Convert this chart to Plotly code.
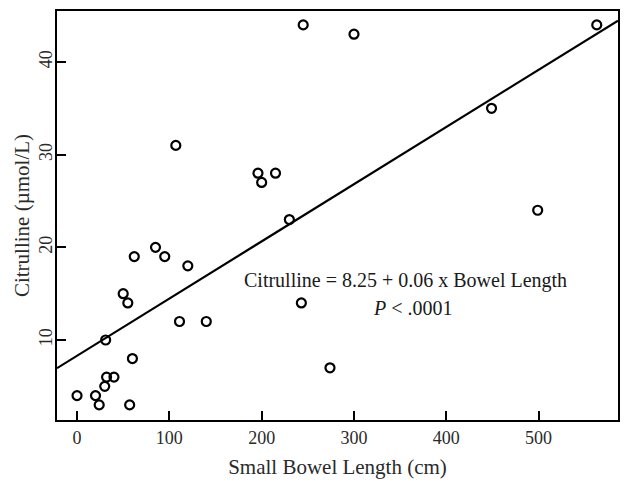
import plotly.graph_objects as go

bowel_length = [0, 20, 24, 30, 32, 40, 31, 60, 57, 50, 55, 62, 85, 95, 107, 111, 120, 140,
                196, 200, 215, 230, 243, 245, 274, 300, 449, 499, 563]
citrulline = [4, 4, 3, 5, 6, 6, 10, 8, 3, 15, 14, 19, 20, 19, 31, 12, 18, 12,
              28, 27, 28, 23, 14, 44, 7, 43, 35, 24, 44]

intercept = 8.3
slope = 0.0617
x_range = [-21.7, 586]
y_range = [1.37, 45.5]

x_tick_vals = [0, 100, 200, 300, 400, 500]
y_tick_vals = [10, 20, 30, 40]

line_x = x_range
line_y = [intercept + slope * v for v in line_x]

FONT = "Liberation Serif, Times New Roman, serif"

fig = go.Figure()
fig.add_trace(go.Scatter(x=line_x, y=line_y, mode="lines",
                         line=dict(color="black", width=2.2), hoverinfo="skip"))
fig.add_trace(go.Scatter(x=bowel_length, y=citrulline, mode="markers",
                         marker=dict(symbol="circle-open", size=9, color="black",
                                     line=dict(width=2.2, color="black"))))

fig.add_annotation(x=0.622, y=0.342, xref="paper", yref="paper",
                   text="Citrulline = 8.25 + 0.06 x Bowel Length", showarrow=False,
                   font=dict(family=FONT, size=20, color="#1a1a1a"), xanchor="center", yanchor="middle")
fig.add_annotation(x=0.634, y=0.274, xref="paper", yref="paper",
                   text="<i>P</i> < .0001", showarrow=False,
                   font=dict(family=FONT, size=20, color="#1a1a1a"), xanchor="center", yanchor="middle")

fig.update_layout(
    width=629, height=489,
    margin=dict(l=57, r=11, t=11, b=69, autoexpand=False),
    paper_bgcolor="white", plot_bgcolor="white",
    showlegend=False,
    font=dict(family=FONT, size=18, color="#2a2a2a"),
    xaxis=dict(range=x_range, tickvals=x_tick_vals, ticks="inside", ticklen=9, tickwidth=2,
               tickcolor="black", showline=True, linecolor="black", linewidth=2, mirror=True,
               showgrid=False, zeroline=False, automargin=False,
               title=dict(text="Small Bowel Length (cm)", font=dict(size=21, family=FONT), standoff=13)),
    yaxis=dict(range=y_range, tickvals=y_tick_vals, ticks="inside", ticklen=9, tickwidth=2,
               tickcolor="black", showline=True, linecolor="black", linewidth=2, mirror=True,
               showgrid=False, zeroline=False, tickangle=-90, automargin=False,
               ticklabelstandoff=-4,
               title=dict(text="Citrulline (µmol/L)", font=dict(size=21, family=FONT), standoff=0)),
)

fig.write_html("out.html", config={"displayModeBar": False},
               post_script="document.body.style.margin='0';document.body.style.overflow='hidden';")
